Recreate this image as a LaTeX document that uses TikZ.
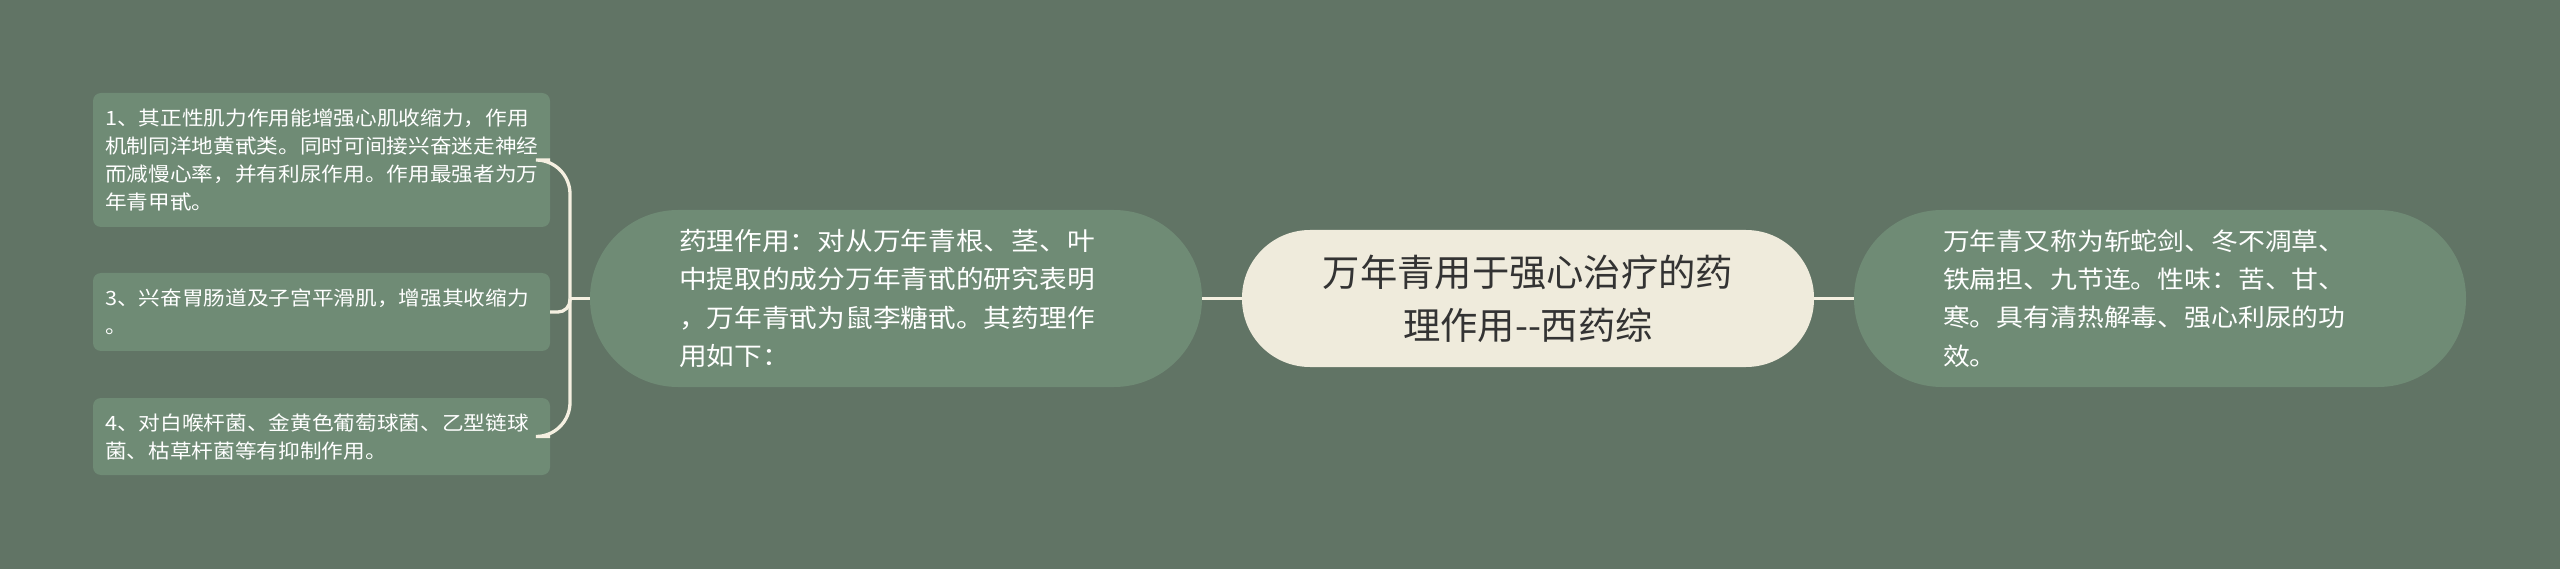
\documentclass[tikz,border=0pt]{standalone}
\usepackage{fontspec}
\setmainfont{Noto Sans CJK SC}
\newfontfamily\widecjk[FakeStretch=1.1]{Noto Sans CJK SC}
\definecolor{bgcol}{RGB}{97,116,101}
\definecolor{boxcol}{RGB}{111,139,117}
\definecolor{rootcol}{RGB}{239,235,220}
\definecolor{linecol}{RGB}{245,240,225}
\definecolor{rootfont}{RGB}{51,51,51}
\begin{document}
\begin{tikzpicture}[x=1pt,y=-1pt]
    \tikzstyle{root}=[fill=rootcol,text=rootfont,align=center,minimum width=572pt,minimum height=137pt,rounded corners=68pt,font=\fontsize{37.3}{53}\selectfont]
    \tikzstyle{topic}=[fill=boxcol,text=white,align=left,text width=434pt,inner xsep=89pt,inner ysep=0pt,minimum height=177pt,rounded corners=88pt]
    \tikzstyle{leaf}=[fill=boxcol,text=white,align=left,text width=433pt,inner xsep=12pt,inner ysep=0pt,rounded corners=8pt,font=\widecjk\fontsize{19.7}{28}\selectfont]
    \tikzstyle{link}=[draw=linecol,line width=3.3pt]

    \fill[bgcol] (0,0) rectangle (2560,569);
    \useasboundingbox (0,0) rectangle (2560,569);

    \node[root] at (1528,298.5) (main) {万年青用于强心治疗的药\\理作用-\kern0pt-西药综};
    \node[topic,font=\widecjk\fontsize{25.2}{38.3}\selectfont] at (896,298.5) (drug) {药理作用：对从万年青根、茎、叶\\中提取的成分万年青甙的研究表明\\，万年青甙为鼠李糖甙。其药理作\\用如下：};
    \node[topic,font=\widecjk\fontsize{24.4}{38.3}\selectfont] at (2160,298.5) (alias) {万年青又称为斩蛇剑、冬不凋草、\\铁扁担、九节连。性味：苦、甘、\\寒。具有清热解毒、强心利尿的功\\效。};

    \node[leaf,minimum height=134pt] at (321.5,160) (l1) {1、其正性肌力作用能增强心肌收缩力，作用\\机制同洋地黄甙类。同时可间接兴奋迷走神经\\而减慢心率，并有利尿作用。作用最强者为万\\年青甲甙。};
    \node[leaf,minimum height=78pt] at (321.5,312) (l3) {3、兴奋胃肠道及子宫平滑肌，增强其收缩力\\。};
    \node[leaf,minimum height=77pt] at (321.5,436.5) (l4) {4、对白喉杆菌、金黄色葡萄球菌、乙型链球\\菌、枯草杆菌等有抑制作用。};

    \coordinate (jn) at (570,298.5);

    \draw[link] (main.west) -- (drug.east);
    \draw[link] (main.east) -- (alias.west);
    \draw[link] (drug.west) -- (jn);
    \draw[link,rounded corners=34pt] (jn) |- (l1.east);
    \draw[link,rounded corners=12pt] (jn) |- (l3.east);
    \draw[link,rounded corners=34pt] (jn) |- (l4.east);
\end{tikzpicture}
\end{document}
